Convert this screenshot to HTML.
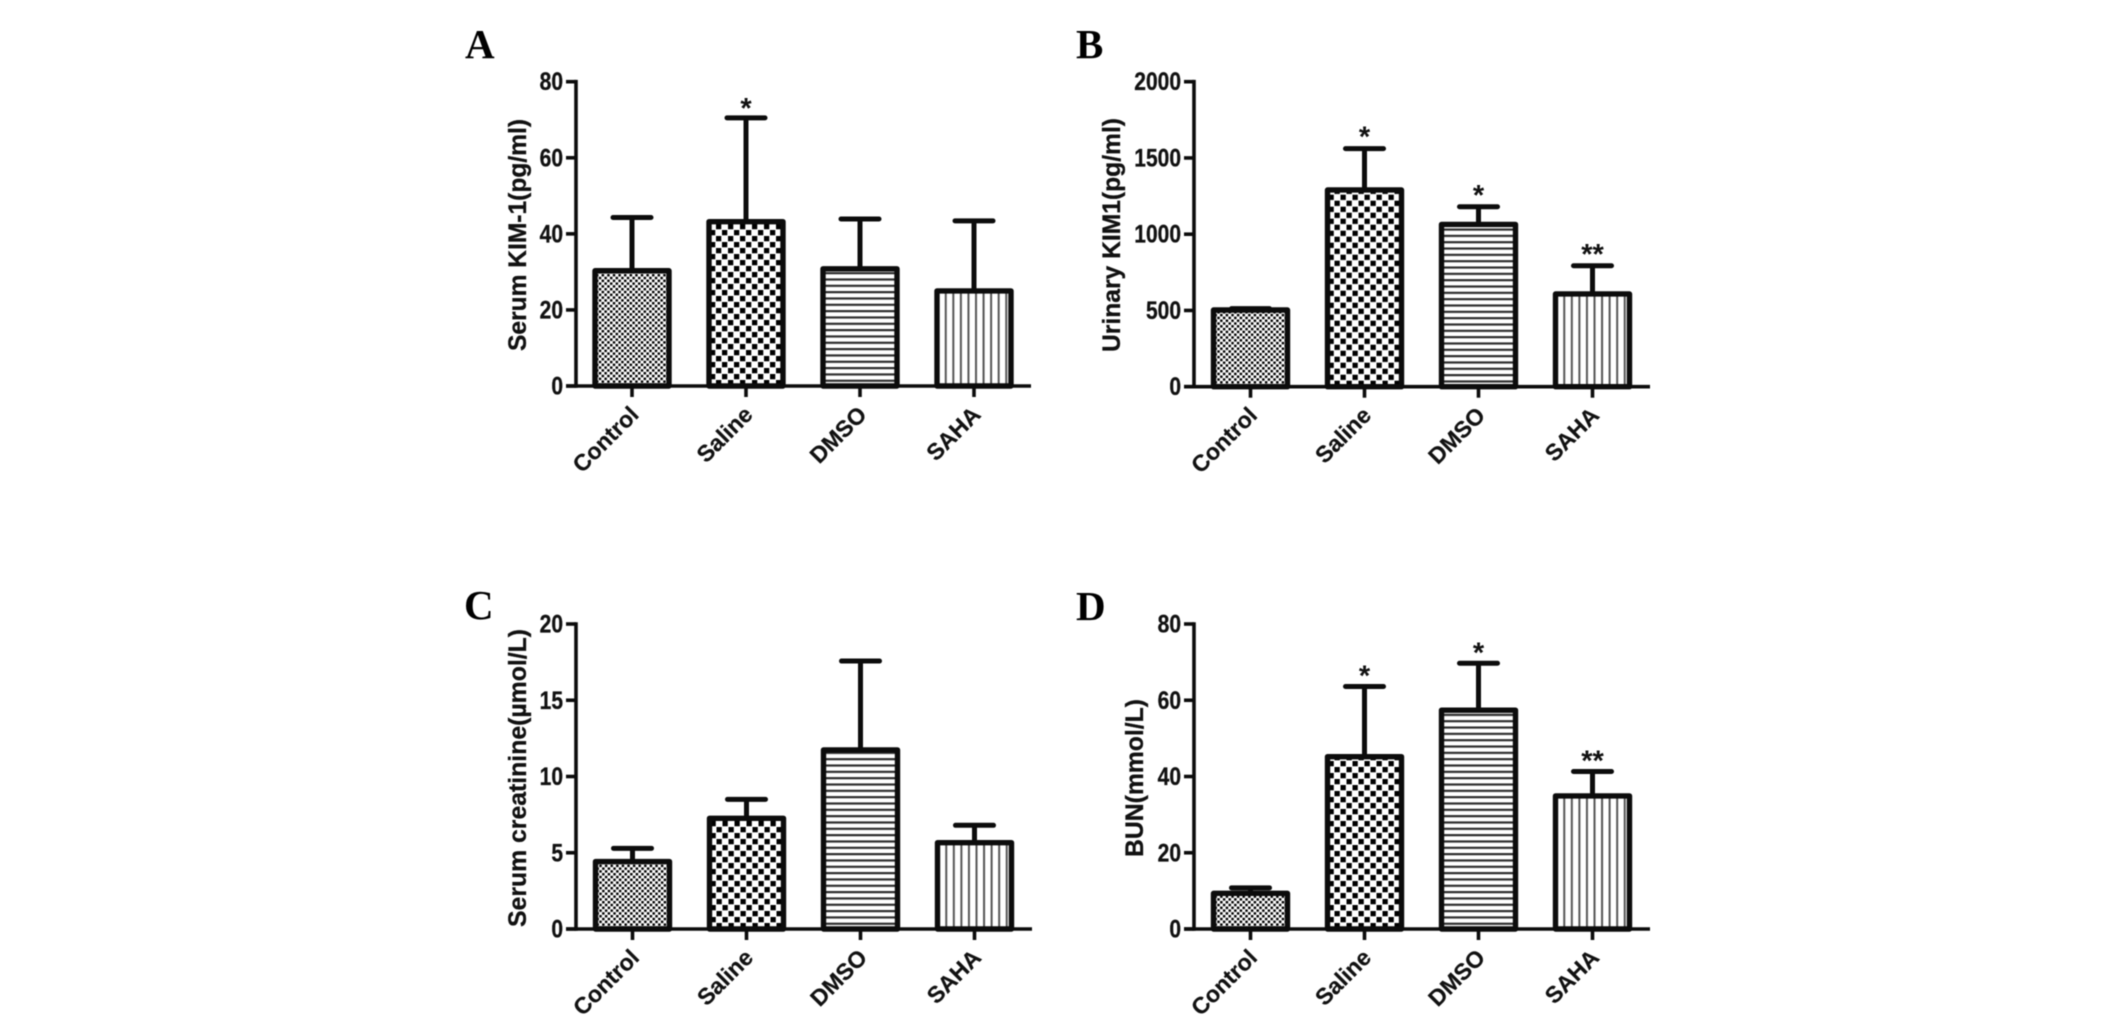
<!DOCTYPE html>
<html lang="en">
<head>
<meta charset="utf-8">
<title>Kidney injury markers</title>
<style>
  html, body { margin: 0; padding: 0; background: #fff; }
  body { width: 2126px; height: 1028px; overflow: hidden; }
  svg { display: block; filter: blur(0.6px); }
  .panel-letter { font-family: "Liberation Serif", serif; font-weight: bold; font-size: 41px; fill: #000; }
  .axis-title { font-family: "Liberation Sans", sans-serif; font-weight: bold; font-size: 25px; fill: #111; stroke: #111; stroke-width: 0.3px; }
  .tick-label { font-family: "Liberation Sans", sans-serif; font-weight: bold; font-size: 25px; fill: #111; stroke: #111; stroke-width: 0.3px; }
  .cat-label { font-family: "Liberation Sans", sans-serif; font-weight: bold; font-size: 23px; fill: #111; stroke: #111; stroke-width: 0.2px; }
  .star { font-family: "Liberation Sans", sans-serif; font-weight: bold; font-size: 29px; fill: #111; }
</style>
</head>
<body>
<svg id="fig" xmlns="http://www.w3.org/2000/svg" width="2126" height="1028" viewBox="0 0 2126 1028">
  <rect width="2126" height="1028" fill="#fff"/>
  <defs id="defs"></defs>

  <g id="panel-a">
    <text class="panel-letter" x="465" y="58">A</text>
    <text class="axis-title" transform="translate(526 235) rotate(-90)" text-anchor="middle" textLength="232" lengthAdjust="spacingAndGlyphs">Serum KIM-1(pg/ml)</text>
  </g>
  <g id="panel-b">
    <text class="panel-letter" x="1076" y="58">B</text>
    <text class="axis-title" transform="translate(1120 235) rotate(-90)" text-anchor="middle" textLength="234" lengthAdjust="spacingAndGlyphs">Urinary KIM1(pg/ml)</text>
  </g>
  <g id="panel-c">
    <text class="panel-letter" x="464" y="619">C</text>
    <text class="axis-title" transform="translate(526 778) rotate(-90)" text-anchor="middle" textLength="298" lengthAdjust="spacingAndGlyphs">Serum creatinine(µmol/L)</text>
  </g>
  <g id="panel-d">
    <text class="panel-letter" x="1076" y="620">D</text>
    <text class="axis-title" transform="translate(1143 778) rotate(-90)" text-anchor="middle" textLength="158" lengthAdjust="spacingAndGlyphs">BUN(mmol/L)</text>
  </g>
</svg>

<script>
// ---- chart data ----
const categories = ['Control', 'Saline', 'DMSO', 'SAHA'];

const ticksA = [0, 20, 40, 60, 80];
const meansA = [30.3, 43.2, 30.8, 25];
const errorTopsA = [44.3, 70.5, 43.9, 43.4];
const starsA = ['', '*', '', ''];

const ticksB = [0, 500, 1000, 1500, 2000];
const meansB = [503, 1290, 1064, 608];
const errorTopsB = [512, 1561, 1180, 793];
const starsB = ['', '*', '*', '**'];

const ticksC = [0, 5, 10, 15, 20];
const meansC = [4.42, 7.26, 11.74, 5.66];
const errorTopsC = [5.29, 8.5, 17.57, 6.8];
const starsC = ['', '', '', ''];

const ticksD = [0, 20, 40, 60, 80];
const meansD = [9.35, 45.2, 57.4, 34.9];
const errorTopsD = [10.8, 63.6, 69.7, 41.3];
const starsD = ['', '*', '*', '**'];

// ---- drawing helpers ----
const NS = 'http://www.w3.org/2000/svg';
const defs = document.getElementById('defs');

function mk(tag, attrs, parent) {
  const el = document.createElementNS(NS, tag);
  for (const k in attrs) el.setAttribute(k, attrs[k]);
  parent.appendChild(el);
  return el;
}

function makePattern(id, kind, ox, oy) {
  let size = 5.6;
  if (kind === 1) size = 12;
  if (kind === 2) size = 6.33;
  if (kind === 3) size = 7.56;
  const p = mk('pattern', {
    id: id, patternUnits: 'userSpaceOnUse', width: size, height: size,
    patternTransform: 'translate(' + ox + ' ' + oy + ')'
  }, defs);
  mk('rect', { width: size, height: size, fill: '#fff' }, p);
  if (kind === 0 || kind === 1) {
    const c = size / 2;
    const s = c * 0.88;
    mk('rect', { x: 0, y: 0, width: s, height: s, fill: '#000' }, p);
    mk('rect', { x: c, y: c, width: s, height: s, fill: '#000' }, p);
  } else if (kind === 2) {
    mk('rect', { x: 0, y: 0, width: size, height: 2.2, fill: '#2c2c2c' }, p);
  } else {
    mk('rect', { x: 0, y: 0, width: 2, height: size, fill: '#555' }, p);
  }
}

function drawPanel(panelId, ticks, means, errorTops, stars, axisX, axisEnd, yTop, yZero, firstCenter, starLift) {
  const group = document.getElementById('panel-' + panelId);
  const maxTick = ticks[ticks.length - 1];
  const yScale = v => yZero - (v / maxTick) * (yZero - yTop);
  const xScale = i => firstCenter + i * 114;

  // bars with error bars
  categories.forEach((cat, i) => {
    const cx = xScale(i);
    const barTop = yScale(means[i]);
    const errTop = yScale(errorTops[i]);
    const slug = cat.toLowerCase() + '-' + panelId;

    const stem = mk('line', { x1: cx, x2: cx, y1: errTop, y2: barTop, stroke: '#0c0c0c', 'stroke-width': 5 }, group);
    
    

    const cap = mk('line', { x1: cx - 19, x2: cx + 19, y1: errTop, y2: errTop, stroke: '#0c0c0c', 'stroke-width': 5, 'stroke-linecap': 'round' }, group);
    
    

    const patId = 'pat-' + slug;
    const originX = i === 3 ? cx + 1 : cx - 36;
    makePattern(patId, i, originX, yZero);

    const bar = mk('rect', {
      x: cx - 37, y: barTop, width: 74, height: yZero - barTop,
      fill: 'url(#' + patId + ')', stroke: '#0c0c0c', 'stroke-width': 5.4, 'stroke-linejoin': 'round'
    }, group);
    
    

    if (stars[i]) {
      const star = mk('text', { class: 'star', x: cx, y: errTop + 3 - starLift, 'text-anchor': 'middle' }, group);
      star.textContent = stars[i];
      
      
    }

    const tick = mk('line', { x1: cx, x2: cx, y1: yZero, y2: yZero + 11, stroke: '#0c0c0c', 'stroke-width': 3.6 }, group);
    
    

    const label = mk('text', {
      class: 'cat-label', 'text-anchor': 'end',
      transform: 'translate(' + (cx + 8) + ' ' + (yZero + 30) + ') rotate(-45)'
    }, group);
    label.textContent = cat;
    
    
  });

  // axes
  const xAxis = mk('line', { x1: axisX - 10, x2: axisEnd, y1: yZero, y2: yZero, stroke: '#0c0c0c', 'stroke-width': 3.6 }, group);
  
  

  const yAxis = mk('line', { x1: axisX, x2: axisX, y1: yTop - 1.8, y2: yZero + 1.8, stroke: '#0c0c0c', 'stroke-width': 3.6 }, group);
  
  

  ticks.forEach(t => {
    const y = yScale(t);
    const tick = mk('line', { x1: axisX - 10, x2: axisX, y1: y, y2: y, stroke: '#0c0c0c', 'stroke-width': 3.6 }, group);
    
    

    const label = mk('text', {
      class: 'tick-label', 'text-anchor': 'end',
      transform: 'translate(' + (axisX - 13) + ' ' + (y + 8.5) + ') scale(0.84 1)'
    }, group);
    label.textContent = t;
    
    
  });
}

drawPanel('a', ticksA, meansA, errorTopsA, starsA, 576, 1031, 81.7, 386, 632, 3);
drawPanel('b', ticksB, meansB, errorTopsB, starsB, 1194, 1650, 81.7, 386.7, 1250.5, 5);
drawPanel('c', ticksC, meansC, errorTopsC, starsC, 576, 1032, 624, 929, 632.5, 3);
drawPanel('d', ticksD, meansD, errorTopsD, starsD, 1194, 1650, 624, 929, 1250.5, 4);
</script>
</body>
</html>
